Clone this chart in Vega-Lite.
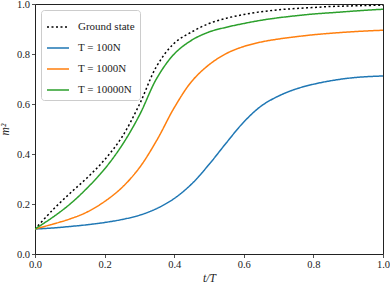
{
  "$schema": "https://vega.github.io/schema/vega-lite/v6.json",
  "width": 348,
  "height": 250,
  "autosize": {"type": "none"},
  "padding": {"left": 35, "top": 4, "right": 7, "bottom": 32},
  "background": "white",
  "config": {
    "font": "'Liberation Serif', 'DejaVu Serif', serif",
    "view": {"stroke": "#222", "strokeWidth": 1},
    "axis": {
      "grid": false,
      "domain": false,
      "tickColor": "#222",
      "tickSize": 3.5,
      "tickWidth": 0.8,
      "labelFont": "'Liberation Serif', 'DejaVu Serif', serif",
      "labelFontSize": 10.5,
      "labelColor": "#222",
      "labelPadding": 2,
      "labelFlush": false,
      "titleFont": "'Liberation Serif', 'DejaVu Serif', serif",
      "titleFontSize": 11.5,
      "titleFontWeight": "normal",
      "titleFontStyle": "italic",
      "titleColor": "#222"
    },
    "legend": {
      "labelFont": "'Liberation Serif', 'DejaVu Serif', serif",
      "labelFontSize": 11,
      "labelColor": "#222"
    }
  },
  "data": {
    "values": [
      {"t": 0, "m": 0.1, "s": "Ground state"},
      {"t": 0.05, "m": 0.175, "s": "Ground state"},
      {"t": 0.1, "m": 0.242, "s": "Ground state"},
      {"t": 0.15, "m": 0.305, "s": "Ground state"},
      {"t": 0.2, "m": 0.377, "s": "Ground state"},
      {"t": 0.25, "m": 0.468, "s": "Ground state"},
      {"t": 0.3, "m": 0.598, "s": "Ground state"},
      {"t": 0.35, "m": 0.752, "s": "Ground state"},
      {"t": 0.4, "m": 0.843, "s": "Ground state"},
      {"t": 0.45, "m": 0.888, "s": "Ground state"},
      {"t": 0.5, "m": 0.922, "s": "Ground state"},
      {"t": 0.55, "m": 0.943, "s": "Ground state"},
      {"t": 0.6, "m": 0.958, "s": "Ground state"},
      {"t": 0.65, "m": 0.969, "s": "Ground state"},
      {"t": 0.7, "m": 0.977, "s": "Ground state"},
      {"t": 0.75, "m": 0.982, "s": "Ground state"},
      {"t": 0.8, "m": 0.986, "s": "Ground state"},
      {"t": 0.85, "m": 0.99, "s": "Ground state"},
      {"t": 0.9, "m": 0.992, "s": "Ground state"},
      {"t": 0.95, "m": 0.994, "s": "Ground state"},
      {"t": 1.0, "m": 0.995, "s": "Ground state"},

      {"t": 0, "m": 0.1, "s": "T = 100N"},
      {"t": 0.05, "m": 0.104, "s": "T = 100N"},
      {"t": 0.1, "m": 0.11, "s": "T = 100N"},
      {"t": 0.15, "m": 0.117, "s": "T = 100N"},
      {"t": 0.2, "m": 0.126, "s": "T = 100N"},
      {"t": 0.25, "m": 0.138, "s": "T = 100N"},
      {"t": 0.3, "m": 0.155, "s": "T = 100N"},
      {"t": 0.35, "m": 0.182, "s": "T = 100N"},
      {"t": 0.4, "m": 0.222, "s": "T = 100N"},
      {"t": 0.45, "m": 0.28, "s": "T = 100N"},
      {"t": 0.5, "m": 0.358, "s": "T = 100N"},
      {"t": 0.55, "m": 0.445, "s": "T = 100N"},
      {"t": 0.6, "m": 0.528, "s": "T = 100N"},
      {"t": 0.65, "m": 0.592, "s": "T = 100N"},
      {"t": 0.7, "m": 0.632, "s": "T = 100N"},
      {"t": 0.75, "m": 0.66, "s": "T = 100N"},
      {"t": 0.8, "m": 0.679, "s": "T = 100N"},
      {"t": 0.85, "m": 0.693, "s": "T = 100N"},
      {"t": 0.9, "m": 0.703, "s": "T = 100N"},
      {"t": 0.95, "m": 0.709, "s": "T = 100N"},
      {"t": 1.0, "m": 0.712, "s": "T = 100N"},

      {"t": 0, "m": 0.1, "s": "T = 1000N"},
      {"t": 0.05, "m": 0.119, "s": "T = 1000N"},
      {"t": 0.1, "m": 0.14, "s": "T = 1000N"},
      {"t": 0.15, "m": 0.168, "s": "T = 1000N"},
      {"t": 0.2, "m": 0.21, "s": "T = 1000N"},
      {"t": 0.25, "m": 0.266, "s": "T = 1000N"},
      {"t": 0.3, "m": 0.345, "s": "T = 1000N"},
      {"t": 0.35, "m": 0.455, "s": "T = 1000N"},
      {"t": 0.4, "m": 0.585, "s": "T = 1000N"},
      {"t": 0.45, "m": 0.69, "s": "T = 1000N"},
      {"t": 0.5, "m": 0.757, "s": "T = 1000N"},
      {"t": 0.55, "m": 0.802, "s": "T = 1000N"},
      {"t": 0.6, "m": 0.83, "s": "T = 1000N"},
      {"t": 0.65, "m": 0.848, "s": "T = 1000N"},
      {"t": 0.7, "m": 0.86, "s": "T = 1000N"},
      {"t": 0.75, "m": 0.869, "s": "T = 1000N"},
      {"t": 0.8, "m": 0.877, "s": "T = 1000N"},
      {"t": 0.85, "m": 0.883, "s": "T = 1000N"},
      {"t": 0.9, "m": 0.888, "s": "T = 1000N"},
      {"t": 0.95, "m": 0.892, "s": "T = 1000N"},
      {"t": 1.0, "m": 0.895, "s": "T = 1000N"},

      {"t": 0, "m": 0.1, "s": "T = 10000N"},
      {"t": 0.05, "m": 0.146, "s": "T = 10000N"},
      {"t": 0.1, "m": 0.199, "s": "T = 10000N"},
      {"t": 0.15, "m": 0.264, "s": "T = 10000N"},
      {"t": 0.2, "m": 0.34, "s": "T = 10000N"},
      {"t": 0.25, "m": 0.435, "s": "T = 10000N"},
      {"t": 0.3, "m": 0.555, "s": "T = 10000N"},
      {"t": 0.35, "m": 0.703, "s": "T = 10000N"},
      {"t": 0.4, "m": 0.80, "s": "T = 10000N"},
      {"t": 0.45, "m": 0.855, "s": "T = 10000N"},
      {"t": 0.5, "m": 0.888, "s": "T = 10000N"},
      {"t": 0.55, "m": 0.907, "s": "T = 10000N"},
      {"t": 0.6, "m": 0.922, "s": "T = 10000N"},
      {"t": 0.65, "m": 0.935, "s": "T = 10000N"},
      {"t": 0.7, "m": 0.945, "s": "T = 10000N"},
      {"t": 0.75, "m": 0.953, "s": "T = 10000N"},
      {"t": 0.8, "m": 0.96, "s": "T = 10000N"},
      {"t": 0.85, "m": 0.965, "s": "T = 10000N"},
      {"t": 0.9, "m": 0.97, "s": "T = 10000N"},
      {"t": 0.95, "m": 0.975, "s": "T = 10000N"},
      {"t": 1.0, "m": 0.979, "s": "T = 10000N"}
    ]
  },
  "mark": {"type": "line", "interpolate": "catmull-rom", "strokeWidth": 1.5, "clip": true},
  "encoding": {
    "x": {
      "field": "t", "type": "quantitative",
      "scale": {"domain": [0, 1], "nice": false},
      "axis": {"values": [0, 0.2, 0.4, 0.6, 0.8, 1.0], "format": ".1f", "title": "t/T", "titlePadding": 2}
    },
    "y": {
      "field": "m", "type": "quantitative",
      "scale": {"domain": [0, 1], "nice": false},
      "axis": {"values": [0, 0.2, 0.4, 0.6, 0.8, 1.0], "format": ".1f", "title": "m²", "titlePadding": 6}
    },
    "color": {
      "field": "s", "type": "nominal",
      "scale": {
        "domain": ["Ground state", "T = 100N", "T = 1000N", "T = 10000N"],
        "range": ["#000000", "#1f77b4", "#ff7f0e", "#2ca02c"]
      },
      "legend": {
        "title": null,
        "orient": "top-left",
        "offset": 6,
        "padding": 5,
        "fillColor": "white",
        "strokeColor": "#cccccc",
        "cornerRadius": 3,
        "symbolType": "stroke",
        "symbolSize": 484,
        "symbolStrokeWidth": 1.5,
        "rowPadding": 4,
        "labelOffset": 8
      }
    },
    "strokeDash": {
      "field": "s", "type": "nominal",
      "scale": {
        "domain": ["Ground state", "T = 100N", "T = 1000N", "T = 10000N"],
        "range": [[2, 2.5], [1, 0], [1, 0], [1, 0]]
      },
      "legend": null
    }
  }
}
